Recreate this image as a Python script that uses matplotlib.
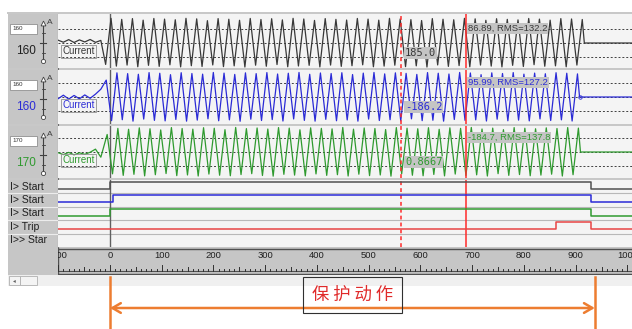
import numpy as np
import matplotlib
matplotlib.use("Agg")
import matplotlib.pyplot as plt
from matplotlib.patches import Rectangle

# ---------------- data ----------------
half_period = 10.35          # ms between successive peaks of the 50 Hz current

ch_labels = ["Current", "Current", "Current"]
ch_box_text = ["160", "160", "170"]
ch_big_text = ["160", "160", "170"]
ch_colors = ["#383838", "#2b2bd6", "#2f9a2f"]

# pre-fault ripple (A), one value per half period starting at -100 ms
ch1_pre = [22, 6, 26, 4, 24, 8, 27, 5, 20]
ch2_pre = [-14, 14, -16, 12, -14, 16, -10, 22, 60]
ch3_pre = [-5, -20, -3, -22, -6, -18, -2, 22, -40]

# fault current peaks (A), one per half period
ch1_start = -8.4
ch1_peaks = [-165, 190, -178, 182, -170, 188, -183, 176, -172, 189, -180, 184, -168, 179, -184, 190,
             -175, 186, -181, 172, -169, 188, -182, 183, -176, 175, -185, 189, -171, 181, -179, 187,
             -166, 178, -183, 190, -177, 185, -172, 174, -184, 188, -170, 182, -180, 177, -175, 189,
             -168, 184, -183, 176, -178, 190, -171, 185, -182, 180, -176, 173, -185, 188, -169, 183,
             -180, 179, -174, 190, -183, 186, -170, 175, -178, 187, -184, 182, -172, 178, -181, 189,
             -167, 184, -179, 176, -176, 188, -183, 185, -170, 181]
ch2_start = -7.3
ch2_peaks = [130, -182, 186, -175, 180, -186, 175, -170, 188, -180, 183, -184, 172, -173, 187, -186,
             181, -178, 176, -168, 189, -183, 184, -176, 174, -187, 186, -171, 180, -181, 188, -174,
             177, -185, 183, -169, 189, -180, 175, -186, 185, -172, 181, -183, 187, -177, 173, -186,
             184, -170, 189, -181, 178, -175, 186, -184, 182, -168, 174, -182, 188, -179, 183, -186,
             177, -173, 189, -180, 185, -176, 172, -185, 186, -171, 181, -183, 188, -178, 176, -184,
             184, -169, 179, -181, 187, -176, 183, -185, 178]
ch3_start = -5.5
ch3_peaks = [135, -168, 182, -180, 175, -172, 186, -184, 179, -175, 170, -166, 188, -182, 181, -177,
             176, -185, 187, -170, 183, -179, 172, -183, 189, -174, 180, -167, 185, -181, 177, -186,
             188, -172, 184, -178, 171, -184, 186, -169, 182, -180, 178, -175, 189, -185, 176, -171,
             185, -182, 181, -177, 173, -186, 188, -168, 183, -179, 179, -183, 187, -173, 175, -184,
             186, -170, 182, -181, 189, -176, 177, -185, 184, -167, 172, -180, 188, -174, 183, -183,
             179, -178, 186, -171, 181, -185, 188, -175, 184]

cursor_dash_t = 562
cursor_solid_t = 688
cursor1_text = ["185.0", "-186.2", "0.8667"]
cursor2_text = ["86.89, RMS=132.2", "95.99, RMS=127.2", "-184.7, RMS=137.8"]

dig_names = ["I> Start", "I> Start", "I> Start", "I> Trip", "I>> Star"]
dig_colors = ["#505050", "#2b2bd6", "#2f9a2f", "#e84545"]
dig_on = [0, 6, 0, 862]
dig_off = [930, 930, 930, 930]

ruler_labels = list(range(-100, 1001, 100))
annot_text = "保 护 动 作"
annot_t0, annot_t1 = 0, 937

# ---------------- layout ----------------
W, H = 632, 329
PX_PER_MS = 0.5174
X0_PX = 110
A_PER_PX = 7.7

def t_of(xpx):
    return (xpx - X0_PX) / PX_PER_MS

TMIN, TMAX = t_of(58), t_of(632)

plt.rcParams['font.family'] = ['Liberation Sans', 'DejaVu Sans']
fig = plt.figure(figsize=(W / 100, H / 100), dpi=100)
fig.patch.set_facecolor('white')

def pax(x0, y0, x1, y1):
    return fig.add_axes([x0 / W, 1 - y1 / H, (x1 - x0) / W, (y1 - y0) / H])

chrome = pax(0, 0, W, H)
chrome.set_xlim(0, W)
chrome.set_ylim(H, 0)
chrome.axis('off')

def rect(x0, y0, x1, y1, **kw):
    chrome.add_patch(Rectangle((x0, y0), x1 - x0, y1 - y0, **kw))

GREY = '#c6c6c6'
RED = '#ff2a2a'
rect(7, 12, W, 14, color='#c8c8c8', lw=0)
rect(8, 14, 58, 247, color=GREY, lw=0)
for y0 in (68, 124, 178):
    rect(8, y0, W, y0 + 2, color='#c8c8c8', lw=0)
chrome.plot([57.5, 57.5], [14, 247], color='#707070', lw=0.8)
# digital label row separators
for i in range(1, 5):
    yy = 180 + 13.4 * i
    chrome.plot([8, 57], [yy, yy], color='#ececec', lw=0.8)
# ruler strip and scroll bar
rect(8, 247, W, 275, color=GREY, lw=0)
rect(8, 275, W, 286, color='#f0f0f0', lw=0)
rect(9, 276, 20, 285, fc='#f4f4f4', ec='#b0b0b0', lw=0.6)
rect(20, 276, 37, 285, fc='#f4f4f4', ec='#b0b0b0', lw=0.6)
chrome.text(14.5, 280.5, '◂', fontsize=4, ha='center', va='center', color='#606060',
            family=['DejaVu Sans'])

# analog panels
panel_boxes = [(58, 14, W, 68), (58, 70, W, 124), (58, 126, W, 178)]
panel_centers = [43, 97, 152]
pres = [ch1_pre, ch2_pre, ch3_pre]
starts = [ch1_start, ch2_start, ch3_start]
peaks = [ch1_peaks, ch2_peaks, ch3_peaks]

for i, (box, c) in enumerate(zip(panel_boxes, panel_centers)):
    x0, y0, x1, y1 = box
    ax = pax(*box)
    ax.set_facecolor('#f4f4f4')
    ax.set_xlim(TMIN, TMAX)
    ax.set_ylim(-(y1 - c) * A_PER_PX, (c - y0) * A_PER_PX)
    for s in ax.spines.values():
        s.set_visible(False)
    ax.set_xticks([]); ax.set_yticks([])
    for lvl in (-104, 0, 104):
        ax.axhline(lvl, color='#404040', lw=0.7, dashes=(2, 2))
    ax.axvline(0, color='#606060', lw=1.0)

    pre_t = TMIN + half_period * np.arange(len(pres[i]))
    f_t = starts[i] + half_period * np.arange(len(peaks[i]))
    t_last = f_t[-1]
    tt = np.concatenate([[TMIN - 1], pre_t, f_t, [t_last + 4, TMAX + 1]])
    vv = np.concatenate([[pres[i][0]], pres[i], peaks[i], [0, 0]])
    ax.plot(tt, vv, color=ch_colors[i], lw=0.9)
    if i == 1:
        ax.plot([t_last + 4], [0], marker='o', ms=2.5, mfc='none', mec=ch_colors[i], mew=0.6)

    ax.axvline(cursor_dash_t, color=RED, lw=1.1, dashes=(2.5, 2), zorder=5)
    ax.axvline(cursor_solid_t, color=RED, lw=1.1, zorder=5)

    ax.text(-92, -62, ch_labels[i], fontsize=7, color=ch_colors[i], va='center', ha='left',
            bbox=dict(boxstyle='square,pad=0.15', fc='none', ec='#909090', lw=0.6))
    ax.text(cursor_dash_t + 8, -76, cursor1_text[i], fontsize=7.5, color=ch_colors[i],
            va='center', ha='left', family=['DejaVu Sans Mono'], zorder=6,
            bbox=dict(boxstyle='square,pad=0.1', fc='#c4c4c4', ec='none'))
    ax.text(cursor_solid_t + 4, 112, cursor2_text[i], fontsize=6.8, color=ch_colors[i],
            va='center', ha='left', zorder=6,
            bbox=dict(boxstyle='square,pad=0.1', fc='#c4c4c4', ec='none'))

    # left column: scale widgets
    rect(10, y0 + 10, 37, y0 + 20, fc='white', ec='#909090', lw=0.6)
    chrome.text(12, y0 + 15, ch_box_text[i], fontsize=4.5, va='center', ha='left', color='#303030')
    big_color = '#202020' if i == 0 else ch_colors[i]
    chrome.text(26, y0 + 36.5, ch_big_text[i], fontsize=8.5, va='center', ha='center', color=big_color)
    chrome.plot([43, 43], [y0 + 10, y0 + 46], color='#404040', lw=0.8)
    chrome.plot([43], [y0 + 9], marker='^', ms=3.5, mfc='white', mec='#404040', mew=0.6)
    chrome.plot([43], [y0 + 47], marker='o', ms=3, mfc='white', mec='#404040', mew=0.6)
    chrome.plot([40, 46], [y0 + 29, y0 + 29], color='#404040', lw=0.8)
    for yy in (y0 + 19, y0 + 39):
        chrome.plot([41.5, 44.5], [yy, yy], color='#404040', lw=0.6)
    chrome.text(47, y0 + 8, 'A', fontsize=6, va='center', ha='left', color='#404040')

# digital channels
dax = pax(58, 180, W, 247)
dax.set_facecolor('#f4f4f4')
dax.set_xlim(TMIN, TMAX)
dax.set_ylim(5, 0)
for s in dax.spines.values():
    s.set_visible(False)
dax.set_xticks([]); dax.set_yticks([])
for r in range(1, 5):
    dax.axhline(r, color='#b8b8b8', lw=0.8)
dax.axvline(0, color='#606060', lw=1.0)
dax.axvline(cursor_dash_t, color=RED, lw=1.1, dashes=(2.5, 2))
dax.axvline(cursor_solid_t, color=RED, lw=1.1)
LOW, HIGH = 0.66, 0.14
for r, (col, ton, toff) in enumerate(zip(dig_colors, dig_on, dig_off)):
    tx = [TMIN, ton, ton, toff, toff, TMAX]
    ty = [r + LOW, r + LOW, r + HIGH, r + HIGH, r + LOW, r + LOW]
    dax.plot(tx, ty, color=col, lw=1.1)
for r, name in enumerate(dig_names):
    chrome.text(10, 180 + 13.4 * (r + 0.5), name, fontsize=7.5, va='center', ha='left', color='#202020')

# ruler
rax = pax(58, 248, W, 275)
rax.set_facecolor(GREY)
rax.set_xlim(TMIN, TMAX)
rax.set_ylim(27, 0)
rax.set_xticks([]); rax.set_yticks([])
for s in rax.spines.values():
    s.set_visible(False)
rax.axhline(0.5, color='#505050', lw=1.0)
rax.axhline(23, color='#505050', lw=0.8)
rax.axhline(26.3, color='#505050', lw=1.0)
rax.axvline(TMIN + 0.5, color='#505050', lw=1.0)
minor = np.arange(-100, 1011, 10)
for tk in minor:
    ln = 6 if tk % 100 == 0 else (4 if tk % 50 == 0 else 2.2)
    rax.plot([tk, tk], [23, 23 - ln], color='#303030', lw=0.7)
for v in ruler_labels:
    rax.text(v, 8, str(v), fontsize=6.8, ha='center', va='center', color='#202020', clip_on=True)

# annotation area
aax = pax(0, 275, W, H)
aax.set_xlim(t_of(0), TMAX)
aax.set_ylim(54, 0)
aax.axis('off')
ORANGE = '#ed7d31'
for tv in (annot_t0, annot_t1):
    aax.plot([tv, tv], [2, 54], color=ORANGE, lw=1.8)
aax.annotate('', xy=(annot_t0, 33), xytext=(annot_t1, 33),
             arrowprops=dict(arrowstyle='<->,head_length=0.6,head_width=0.35', color=ORANGE, lw=1.8,
                             shrinkA=0, shrinkB=0))
aax.text((annot_t0 + annot_t1) / 2, 20, annot_text, fontsize=12.5, color='#e02a2a',
         ha='center', va='center', family=['Noto Sans CJK SC', 'DejaVu Sans'],
         bbox=dict(boxstyle='square,pad=0.5', fc='none', ec='#303030', lw=0.8))

fig.savefig('out.png', dpi=100)
